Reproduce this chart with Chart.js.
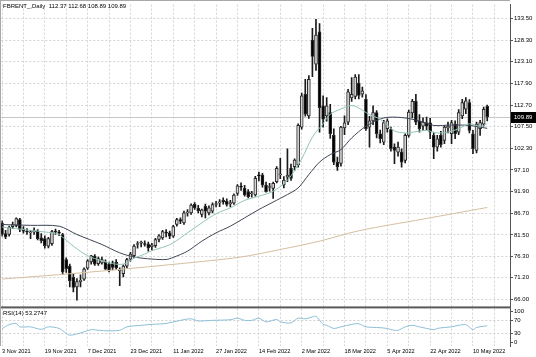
<!DOCTYPE html>
<html><head><meta charset="utf-8">
<script src="https://cdn.jsdelivr.net/npm/chart.js@4.4.1/dist/chart.umd.min.js"></script>
<style>html,body{margin:0;padding:0;background:#fff;overflow:hidden}canvas{display:block}</style>
</head><body>
<canvas id="c" width="536" height="357"></canvas>
<script>
const symbolTitle = 'FBRENT_,Daily  112.37 112.68 108.89 109.89';
const rsiTitle = 'RSI(14) 53.2747';
const monthDays = [
  ['Nov 2021', [3,4,5,8,9,10,11,12,15,16,17,18,19,22,23,24,25,26,29,30]],
  ['Dec 2021', [1,2,3,6,7,8,9,10,13,14,15,16,17,20,21,22,23,27,28,29,30,31]],
  ['Jan 2022', [3,4,5,6,7,10,11,12,13,14,17,18,19,20,21,24,25,26,27,28,31]],
  ['Feb 2022', [1,2,3,4,7,8,9,10,11,14,15,16,17,18,21,22,23,24,25,28]],
  ['Mar 2022', [1,2,3,4,7,8,9,10,11,14,15,16,17,18,21,22,23,24,25,28,29,30,31]],
  ['Apr 2022', [1,4,5,6,7,8,11,12,13,14,18,19,20,21,22,25,26,27,28,29]],
  ['May 2022', [2,3,4,5,6,9,10,11,12,13,16]]
];
const dates = [];
monthDays.forEach(([m, ds]) => ds.forEach(d => dates.push(d + ' ' + m)));

const open = [84.4,81.8,81.6,83.5,83.8,85.2,82.9,82.4,82.0,82.2,
 82.4,80.8,80.6,78.8,79.4,82.3,82.2,81.6,75.6,74.0,
 71.3,69.0,70.3,70.9,73.5,75.0,76.4,74.6,74.8,74.9,
 74.5,74.8,74.9,72.9,72.2,74.0,75.7,76.5,79.2,79.5,
 79.4,79.3,78.6,78.9,80.4,80.8,82.2,82.0,81.2,84.0,
 85.2,84.4,86.8,86.8,88.9,87.9,86.4,88.4,86.8,87.2,
 88.8,89.2,89.8,89.6,89.0,89.1,91.5,93.2,92.7,91.9,
 91.4,91.1,95.8,95.9,93.5,92.9,92.7,94.3,95.9,93.5,
 95.4,97.5,97.9,98.3,107.4,115.3,110.1,128.3,122.5,130.3,
 112.5,110.1,110.9,105.4,99.0,98.7,107.2,108.6,114.4,114.8,
 118.0,115.3,114.1,107.4,108.9,110.9,105.8,103.8,107.0,106.8,
 102.6,101.4,101.4,99.4,105.4,110.8,113.6,108.8,107.6,108.5,
 108.4,105.4,102.6,105.4,104.2,107.2,105.8,108.1,106.2,110.1,
 111.7,113.3,105.8,101.8,107.0,108.1,112.37];
const high = [84.9,82.6,83.6,84.6,85.6,85.5,83.5,83.0,82.6,83.2,
 82.8,81.8,81.3,80.9,82.6,82.9,82.6,81.9,76.0,74.5,
 72.3,71.0,71.9,73.6,75.6,76.6,76.8,76.2,76.2,75.5,
 75.0,75.2,75.6,73.6,74.3,75.9,77.3,79.2,79.9,80.0,
 80.1,79.8,79.5,80.7,81.6,82.6,82.8,82.4,83.8,85.5,
 85.6,87.2,87.6,89.0,89.3,88.6,87.7,88.9,88.5,89.2,
 89.6,90.0,90.4,90.2,89.8,91.4,93.6,94.0,93.4,92.4,
 92.0,95.6,96.6,96.3,94.2,93.9,94.2,97.9,99.9,95.5,
 102.2,98.5,99.8,108.2,115.6,118.9,119.8,131.1,133.3,132.3,
 114.9,114.5,112.9,107.0,100.2,107.6,110.1,116.5,119.3,120.0,
 120.0,117.0,115.2,110.0,112.5,111.4,106.7,109.0,109.4,107.4,
 103.4,103.8,102.2,105.8,111.5,114.1,115.3,110.4,109.6,109.8,
 109.5,106.0,105.4,106.4,107.8,108.6,109.0,108.9,111.6,114.1,
 114.5,114.0,106.6,108.6,109.0,112.2,112.68];
const low = [81.2,80.6,81.2,83.0,83.4,82.3,81.9,81.6,80.6,81.6,
 80.3,79.6,78.3,78.4,79.0,81.6,81.3,72.0,72.5,69.0,
 67.8,65.8,69.0,70.6,73.2,74.5,74.2,74.2,74.5,73.2,
 72.6,73.1,73.2,69.3,71.4,73.6,75.2,76.1,78.3,78.6,
 78.8,77.6,77.9,78.5,79.8,80.4,81.0,80.6,80.9,83.6,
 84.2,84.0,86.0,86.4,87.6,86.8,85.8,85.6,86.3,86.8,
 88.2,88.3,88.9,88.4,88.2,88.8,91.0,92.2,90.8,90.4,
 90.6,90.8,94.5,93.0,91.8,92.0,90.3,94.0,95.0,92.8,
 94.3,94.6,97.0,97.8,106.9,110.0,109.5,119.5,121.0,106.2,
 107.4,108.8,104.7,98.4,97.0,98.0,105.6,108.0,113.6,114.2,
 114.2,114.6,106.6,102.6,108.0,104.8,103.6,103.2,106.2,101.6,
 98.6,100.4,97.8,98.8,105.0,109.6,108.0,106.2,106.6,106.8,
 104.6,99.8,101.6,102.6,103.4,106.0,103.4,104.6,105.6,109.4,
 110.6,106.0,101.0,101.2,105.4,107.6,108.89];
const close = [81.6,81.0,83.3,84.0,85.4,82.8,82.4,82.2,82.1,82.5,
 80.6,80.1,78.9,80.6,82.3,82.2,81.9,72.6,73.4,70.5,
 68.9,70.3,70.6,73.3,75.3,76.5,74.5,75.8,75.6,73.3,
 73.0,73.7,73.6,73.1,74.0,75.6,76.9,78.8,79.3,79.6,
 79.2,78.4,79.1,80.4,81.3,82.3,81.9,81.2,83.5,85.2,
 84.8,86.8,86.9,88.7,88.0,87.3,87.5,87.2,88.0,88.8,
 89.0,89.3,89.4,88.8,89.3,91.1,93.3,93.0,91.1,90.7,
 91.6,95.1,95.7,93.5,91.9,93.1,93.9,97.5,96.2,94.7,
 95.9,95.1,99.5,107.8,114.9,110.5,118.9,124.4,129.5,112.1,
 109.3,112.5,105.8,99.0,97.9,107.4,108.4,115.9,115.3,119.4,
 115.0,116.1,107.0,108.9,110.9,105.8,104.6,108.5,108.9,102.2,
 101.8,102.6,99.0,105.4,111.0,113.6,108.6,107.0,108.6,107.6,
 106.2,102.6,104.6,103.2,107.4,107.6,108.5,105.8,110.9,113.3,
 113.7,106.6,102.2,108.1,108.5,111.7,109.89];

// moving averages and RSI: [bar number, value]
const maFast = [[0,83.4],[5,82.9],[10,82.4],[14,82.0],[16,81.6],[20,78.8],[24,76.5],[28,75.3],[31,74.6],[34,74.5],
 [37,75.9],[40,76.9],[42,77.7],[46,78.8],[48,79.6],[52,82.0],[56,84.4],[60,86.6],[64,88.0],[68,89.8],[72,90.8],
 [76,92.0],[80,94.6],[84,99.8],[87,105.0],[90,108.2],[92,110.5],[96,112.1],[98,112.6],[100,112.0],[103,110.4],
 [106,109.3],[110,106.5],[113,106.0],[116,106.3],[119,106.6],[122,106.0],[125,106.2],[128,107.0],[131,108.2],
 [134,107.6],[136,108.2]];
const maSlow = [[0,84.0],[8,83.8],[16,83.6],[21,81.6],[28,79.2],[33,77.2],[37,76.2],[42,75.7],[46,75.6],[48,76.1],
 [52,77.6],[56,80.0],[60,82.0],[64,83.6],[68,85.6],[72,87.6],[76,89.4],[80,91.2],[83,92.8],[86,96.0],[89,99.0],
 [92,100.8],[95,102.0],[98,104.8],[102,107.6],[107,109.6],[112,109.7],[117,108.9],[121,107.8],[126,107.9],
 [131,107.8],[136,107.1]];
const ma200 = [[0,70.9],[25,72.6],[50,74.6],[67,76.2],[78,78.0],[89,80.0],[100,82.5],[118,85.3],[136,88.1]];
const rsi14 = [[0,44],[2,57],[4,61],[5,50],[8,50],[11,42],[13,50],[16,45],[18,29],[19,23],[21,27],[23,34],[25,41],
 [27,39],[30,37],[33,39],[35,50],[39,55],[42,58],[46,61],[50,71],[53,76],[55,69],[59,71],[64,73],[66,78],[68,71],
 [70,71],[72,78],[74,66],[77,74],[78,66],[81,63],[83,78],[85,76],[87,82],[88,84],[90,58],[91,55],[93,45],[95,50],
 [98,58],[100,60],[102,50],[105,48],[108,45],[109,41],[111,39],[113,50],[115,55],[117,50],[119,45],[121,41],
 [122,45],[124,48],[126,50],[128,55],[130,57],[132,41],[133,48],[135,52],[136,53.27]];

const priceTicks = [66.00,71.20,76.30,81.50,86.70,91.90,97.10,102.30,107.50,112.70,117.90,123.10,128.30,133.50];
const rsiTicks = [0,30,70,100];
const rsiLevels = [30,70];

const FONT = 'Liberation Sans';
const bodies = dates.map((d,i) => ({x:i, y:[open[i], close[i]]}));
const wicks = dates.map((d,i) => ({x:i, y:[low[i], high[i]]}));
const bodyFill = dates.map((d,i) => close[i] >= open[i] ? '#d6d6d6' : '#000000');
const pts = arr => arr.map(([i,v]) => ({x:i, y:v}));

const overlay = {
  id:'overlay',
  beforeDatasetsDraw(chart){
    const {ctx, chartArea:a, scales:{y}} = chart;
    const py = Math.round(y.getPixelForValue(close[close.length-1])) + 0.5;
    ctx.save(); ctx.strokeStyle='#c8c8c8'; ctx.lineWidth=1;
    ctx.beginPath(); ctx.moveTo(a.left, py); ctx.lineTo(a.right, py); ctx.stroke(); ctx.restore();
  },
  afterDraw(chart){
    const {ctx, chartArea:a, scales:{y, yr}} = chart;
    ctx.save();
    ctx.fillStyle = '#5a5a5a'; ctx.fillRect(0, y.bottom - 1, a.right, 2);
    ctx.fillStyle = '#a8a8a8'; ctx.fillRect(0, 0, a.right, 1); ctx.fillRect(0, 0, 1, a.bottom);
    ctx.fillStyle = '#000'; ctx.font = '6px "' + FONT + '"'; ctx.textBaseline = 'middle'; ctx.textAlign = 'left';
    ctx.fillText(symbolTitle, 3, 6);
    ctx.fillText(rsiTitle, 3, yr.top + 6);
    const last = close[close.length-1]; const py = Math.round(y.getPixelForValue(last));
    ctx.fillStyle = '#000'; ctx.fillRect(a.right + 1, py - 5, 536 - a.right - 1, 11);
    ctx.fillStyle = '#fff'; ctx.fillText(last.toFixed(2), a.right + 4, py + 0.5);
    ctx.restore();
  }
};

new Chart(document.getElementById('c'), {
  type: 'bar',
  data: { datasets: [
    {type:'line', data: pts(maFast), yAxisID:'y', borderColor:'#8fc4b6', borderWidth:1, pointRadius:0, tension:0.3, order:0},
    {type:'line', data: pts(maSlow), yAxisID:'y', borderColor:'#3e4555', borderWidth:1, pointRadius:0, tension:0.3, order:0},
    {type:'line', data: pts(ma200), yAxisID:'y', borderColor:'#d4bfa0', borderWidth:1, pointRadius:0, tension:0.3, order:0},
    {type:'line', data: pts(rsi14), yAxisID:'yr', borderColor:'#8cbfd6', borderWidth:1, pointRadius:0, tension:0.3, order:0},
    {data: bodies, yAxisID:'y', backgroundColor: bodyFill, borderColor:'#2a2a2a', borderWidth:1, borderSkipped:false,
     barThickness:3, grouped:false, minBarLength:1, order:1},
    {data: wicks, yAxisID:'y', backgroundColor:'#1a1a1a', barThickness:1, grouped:false, order:2}
  ]},
  options: {
    responsive:false, animation:false, devicePixelRatio:1,
    layout:{padding:{left:1, top:1, right:0, bottom:0}},
    plugins:{legend:{display:false}, tooltip:{enabled:false}},
    scales:{
      x:{type:'linear', min:-0.196, max:142.38, offset:false,
        afterBuildTicks: s => { const t = []; for (let v = 0; v <= 138; v += 6) t.push({value:v}); s.ticks = t; },
        ticks:{autoSkip:false, maxRotation:0, align:'start', padding:2, color:'#000', font:{family:FONT, size:5.6},
          callback: v => (v % 12 === 0 && dates[v]) ? dates[v] : ''},
        grid:{color:'#d4d4d4', drawTicks:false, offset:false}, border:{display:false, dash:[2,2]},
        afterFit: s => { s.height = 11; }},
      y:{position:'right', stack:'panes', stackWeight:306, min:64.09, max:136.83,
        afterBuildTicks: s => { s.ticks = priceTicks.map(v => ({value:v})); },
        ticks:{autoSkip:false, padding:1, color:'#000', font:{family:FONT, size:6}, callback: v => v.toFixed(2)},
        grid:{color:'#d4d4d4', tickColor:'#555', tickLength:3}, border:{display:true, color:'#555', dash:[2,2]},
        afterFit: s => { s.width = 26; }},
      yr:{position:'right', stack:'panes', stackWeight:39, min:-11.8, max:112.8,
        afterBuildTicks: s => { s.ticks = rsiTicks.map(v => ({value:v})); },
        ticks:{autoSkip:false, padding:1, color:'#000', font:{family:FONT, size:6}, callback: v => String(v)},
        grid:{color: c => rsiLevels.includes(c.tick && c.tick.value) ? '#cfcfcf' : 'rgba(0,0,0,0)', tickColor:'#555', tickLength:3},
        border:{display:true, color:'#555', dash:[2,2]},
        afterFit: s => { s.width = 26; }}
    }
  },
  plugins:[overlay]
});
</script>
</body></html>
